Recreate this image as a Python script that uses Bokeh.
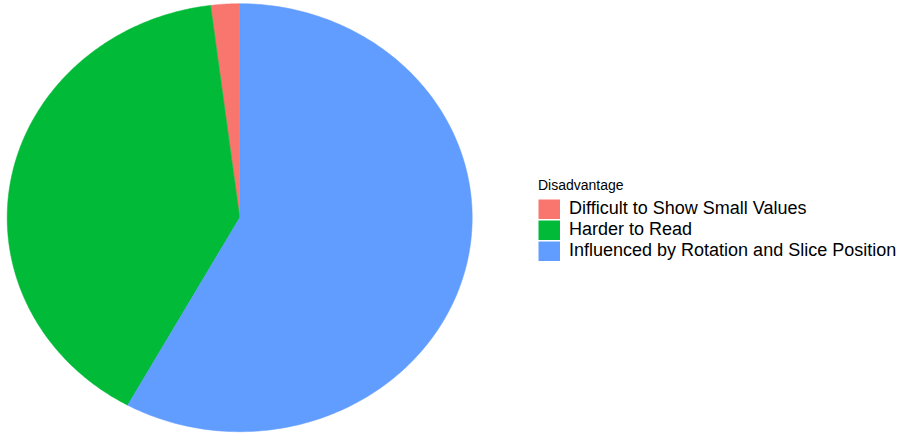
import numpy as np
from bokeh.plotting import figure
from bokeh.models import ColumnDataSource, Range1d, Legend, LegendItem
from bokeh.embed import file_html
from bokeh.resources import INLINE

categories = ["Difficult to Show Small Values", "Harder to Read", "Influenced by Rotation and Slice Position"]
values = [2, 40, 58]
colors = ["#F8766D", "#00BA38", "#619CFF"]
legend_title = "Disadvantage"

W, H = 909, 433
cx, cy, rx, ry = 239.2, 217.2, 232.5, 214.0

p = figure(width=W, height=H, output_backend="svg", toolbar_location=None,
           min_border=0, min_border_left=0, min_border_right=0,
           min_border_top=0, min_border_bottom=0,
           x_range=Range1d(-cx / rx, (W - cx) / rx),
           y_range=Range1d(-(H - cy) / ry, cy / ry))
p.axis.visible = False
p.grid.visible = False
p.outline_line_color = None
p.background_fill_color = "white"
p.border_fill_color = "white"

# ggplot-style stacking: first level at end of the clockwise sweep from 12 o'clock
total = float(sum(values))
fracs = [v / total for v in values]
starts = {}
acc = 0.0
for i in reversed(range(len(values))):
    starts[i] = acc
    acc += fracs[i]

for i, cat in enumerate(categories):
    a0 = starts[i] * 2 * np.pi
    a1 = (starts[i] + fracs[i]) * 2 * np.pi
    t = np.linspace(a0, a1, 200)
    xs = [0.0] + list(np.sin(t)) + [0.0]
    ys = [0.0] + list(np.cos(t)) + [0.0]
    src = ColumnDataSource(dict(xs=[xs], ys=[ys]))
    p.patches("xs", "ys", source=src, fill_color=colors[i], line_color=colors[i], line_width=0.5)

# legend keys: thick lines give full square swatches like ggplot keys
key_renderers = []
for i, cat in enumerate(categories):
    r = p.line(x=[float("nan")], y=[float("nan")], line_color=colors[i], line_width=20, line_cap="butt")
    key_renderers.append(r)

legend = Legend(items=[LegendItem(label=c, renderers=[r]) for c, r in zip(categories, key_renderers)],
                title=legend_title, location=(538, 172),
                border_line_color=None, background_fill_alpha=0,
                glyph_width=22, glyph_height=20, label_height=20, spacing=0,
                padding=0, margin=0, label_standoff=9,
                title_text_font_size="14px", title_text_font_style="normal",
                title_text_font="Liberation Sans", title_standoff=5,
                label_text_font_size="18px", label_text_font="Liberation Sans",
                label_text_color="black", title_text_color="black")
p.add_layout(legend, "center")

open("out.html", "w").write(file_html(p, INLINE))
